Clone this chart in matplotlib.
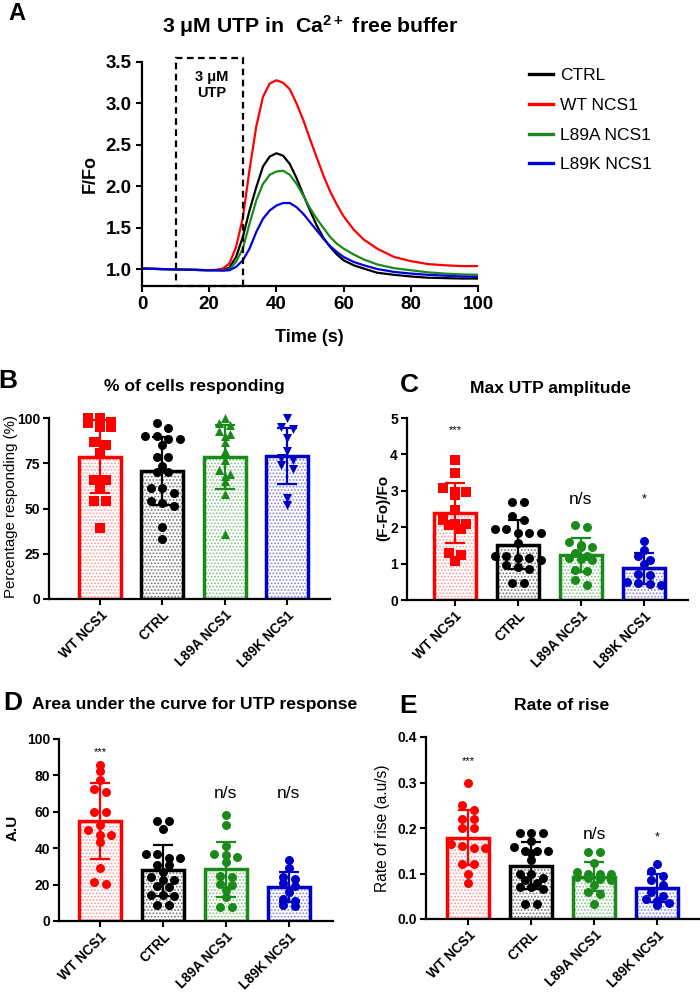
import numpy as np
import matplotlib
matplotlib.use('Agg')
import matplotlib.pyplot as plt
from matplotlib.patches import Rectangle

plt.rcParams['font.family'] = ['Liberation Sans', 'DejaVu Sans']
plt.rcParams['mathtext.fontset'] = 'custom'
plt.rcParams['mathtext.rm'] = 'Liberation Sans'
plt.rcParams['mathtext.bf'] = 'Liberation Sans:bold'
plt.rcParams['hatch.linewidth'] = 0.8

# ---------------- Panel A data ----------------
time_s = [0, 5, 10, 15, 20, 22, 24, 26, 28, 30, 32, 34, 36, 38, 40, 42, 44, 46, 48, 50,
          52, 54, 56, 58, 60, 63, 66, 70, 75, 80, 85, 90, 95, 100]
ctrl_trace = [1.01, 1.005, 1.0, 0.995, 0.99, 0.99, 0.995, 1.02, 1.15, 1.39, 1.71, 1.99, 2.24, 2.36,
              2.40, 2.37, 2.27, 2.10, 1.90, 1.71, 1.53, 1.38, 1.27, 1.18, 1.11, 1.05, 1.01, 0.96,
              0.935, 0.915, 0.90, 0.895, 0.89, 0.89]
wt_trace = [1.01, 1.005, 1.0, 0.995, 0.99, 0.995, 1.01, 1.07, 1.27, 1.62, 2.20, 2.72, 3.08, 3.24,
            3.28, 3.25, 3.17, 3.00, 2.80, 2.57, 2.35, 2.13, 1.94, 1.78, 1.64, 1.48, 1.36, 1.25,
            1.15, 1.10, 1.065, 1.05, 1.04, 1.04]
l89a_trace = [1.01, 1.005, 1.0, 0.995, 0.99, 0.99, 0.99, 1.0, 1.09, 1.25, 1.55, 1.83, 2.03, 2.14,
              2.18, 2.19, 2.14, 2.03, 1.89, 1.74, 1.61, 1.50, 1.39, 1.31, 1.25, 1.18, 1.12, 1.06,
              1.015, 0.99, 0.965, 0.95, 0.94, 0.935]
l89k_trace = [1.01, 1.005, 1.0, 0.995, 0.99, 0.99, 0.985, 0.99, 1.03, 1.11, 1.25, 1.45, 1.61, 1.71,
              1.77, 1.80, 1.80, 1.75, 1.67, 1.57, 1.47, 1.37, 1.28, 1.21, 1.15, 1.09, 1.05, 1.005,
              0.97, 0.95, 0.935, 0.925, 0.915, 0.91]
trace_labels = ['CTRL', 'WT NCS1', 'L89A NCS1', 'L89K NCS1']
utp_window = [10, 30]

# ---------------- Bar panels data ----------------
groups = ['WT NCS1', 'CTRL', 'L89A NCS1', 'L89K NCS1']

pct_wt = [100, 100, 98, 97, 95, 95, 87, 85, 80.5, 66, 66, 61, 54, 54, 39]
pct_ctrl = [97, 94.3, 90, 90, 88.4, 88.4, 85, 78.6, 78.6, 73.7, 70.3, 70.3, 61.1, 61.1, 58.4,
            54.3, 53.2, 51.6, 39.6, 33.1]
pct_l89a = [100, 97, 96, 93, 91, 90, 87, 82, 77, 71, 69, 68, 65, 58, 36]
pct_l89k = [100, 95, 94, 89, 82, 78, 77, 74, 72, 56, 52]

amp_wt = [3.85, 3.5, 3.07, 2.98, 2.97, 2.88, 2.48, 2.2, 2.1, 2.08, 2.05, 1.95, 1.28, 1.25, 1.08]
amp_ctrl = [2.7, 2.7, 2.3, 2.2, 1.95, 1.95, 1.85, 1.85, 1.83, 1.57, 1.2, 1.2, 1.15, 1.15, 1.1,
            0.95, 0.9, 0.85, 0.47, 0.47]
amp_l89a = [2.05, 2.0, 1.6, 1.5, 1.46, 1.45, 1.3, 1.2, 1.15, 1.12, 1.1, 0.82, 0.8, 0.55, 0.42]
amp_l89k = [1.62, 1.38, 1.22, 1.1, 1.0, 0.72, 0.7, 0.5, 0.46, 0.45, 0.4]

auc_wt = [85.7, 82.4, 77.5, 72.3, 71, 60, 60, 53, 50, 47.3, 47.3, 43.6, 28.9, 21.3, 20.3]
auc_ctrl = [55, 55, 50.4, 37, 36.8, 34.4, 34.4, 31, 30.8, 27, 24, 22.5, 22.5, 19, 18.9, 14.3,
            14.3, 14, 8.8, 8.8]
auc_l89a = [58, 53, 41, 37, 36, 35, 32.5, 25, 24, 20.5, 20, 17, 13.4, 7.9, 7.9]
auc_l89k = [33.5, 29, 24, 23, 21, 19, 16, 12, 11, 9, 8]

rate_wt = [0.30, 0.25, 0.24, 0.22, 0.22, 0.20, 0.20, 0.165, 0.16, 0.155, 0.155, 0.12, 0.12,
           0.10, 0.08]
rate_ctrl = [0.19, 0.19, 0.19, 0.172, 0.158, 0.15, 0.15, 0.15, 0.145, 0.13, 0.10, 0.10, 0.09,
             0.085, 0.08, 0.07, 0.07, 0.065, 0.033, 0.033]
rate_l89a = [0.148, 0.148, 0.122, 0.104, 0.10, 0.10, 0.10, 0.092, 0.09, 0.088, 0.085, 0.075,
             0.06, 0.055, 0.032]
rate_l89k = [0.12, 0.105, 0.095, 0.085, 0.075, 0.06, 0.05, 0.045, 0.04, 0.035, 0.03]

sig_amp = ['***', '', 'n/s', '*']
sig_auc = ['***', '', 'n/s', 'n/s']
sig_rate = ['***', '', 'n/s', '*']

colors = ['#ff0000', '#000000', '#1a8a1a', '#0000c8']
dot_colors = ['#ff9a9a', '#707070', '#80c080', '#8080e0']
trace_colors = ['#000000', '#ff0000', '#1a8a1a', '#0000e0']

W, H = 700, 993
fig = plt.figure(figsize=(W / 100, H / 100), dpi=100)


def px_axes(left, top, right, bottom):
    return fig.add_axes([left / W, 1 - bottom / H, (right - left) / W, (bottom - top) / H])


def ftext(x, y, s, **kw):
    kw.setdefault('ha', 'center')
    kw.setdefault('va', 'center')
    fig.text(x / W, 1 - y / H, s, **kw)


def style_axes(ax, tick_fs, pad=2):
    for side in ('top', 'right'):
        ax.spines[side].set_visible(False)
    for side in ('left', 'bottom'):
        ax.spines[side].set_linewidth(1.6)
    ax.tick_params(width=1.5, length=4.5, labelsize=tick_fs, direction='out', pad=pad)
    for lab in ax.get_yticklabels() + ax.get_xticklabels():
        lab.set_fontweight('bold')


# ---------------- Panel A ----------------
axA = px_axes(142, 62, 478, 286)
traces = [ctrl_trace, wt_trace, l89a_trace, l89k_trace]
handles = []
for tr, col, lab in zip(traces, trace_colors, trace_labels):
    h, = axA.plot(time_s, tr, color=col, lw=1.6, label=lab)
    handles.append(h)
axA.set_xlim(0, 100)
axA.set_ylim(0.8, 3.5)
axA.set_xticks([0, 20, 40, 60, 80, 100])
axA.set_yticks([1.0, 1.5, 2.0, 2.5, 3.0, 3.5])
axA.set_yticklabels(['1.0', '1.5', '2.0', '2.5', '3.0', '3.5'])
style_axes(axA, 13.5, pad=3)
axA.add_patch(Rectangle((utp_window[0], 0.8), utp_window[1] - utp_window[0], 2.75,
                        fill=False, ls=(0, (3, 2)), lw=1.6, ec='black', clip_on=False, zorder=5))
axA.text(20.8, 3.22, '3 μM\nUTP', ha='center', va='center', fontsize=10.5, fontweight='bold',
         linespacing=1.15)
leg = axA.legend(handles=handles, loc='upper left', bbox_to_anchor=(529 / W, 1 - 68 / H),
                 bbox_transform=fig.transFigure, frameon=False, fontsize=12.5,
                 handlelength=1.38, handletextpad=0.42, labelspacing=0.84,
                 borderpad=0, borderaxespad=0)
for line in leg.get_lines():
    line.set_linewidth(2.4)

ftext(310, 26, r'3 μM UTP in  $\mathbf{Ca^{2+}}$ free buffer', fontsize=15.3, fontweight='bold')
ftext(90, 174, 'F/Fo', fontsize=13, fontweight='bold', rotation=90)
ftext(309, 337, 'Time (s)', fontsize=13, fontweight='bold')
ftext(17, 13, 'A', fontsize=17, fontweight='bold')


# ---------------- Bar panels ----------------
def swarm_x(ax, center, vals, diam_px=9.5, gap_px=11.5):
    """Arrange points of similar value in centered rows (GraphPad-like scatter)."""
    vals = np.asarray(vals, dtype=float)
    order = np.argsort(-vals)
    ypix = ax.transData.transform(np.column_stack([np.zeros_like(vals), vals]))[:, 1]
    x0pix = ax.transData.transform((center, 0))[0]
    xpix = np.zeros_like(vals)
    rows = []
    cur = []
    for idx in order:
        if cur and abs(ypix[cur[0]] - ypix[idx]) > diam_px * 0.55:
            rows.append(cur)
            cur = []
        cur.append(idx)
    if cur:
        rows.append(cur)
    for row in rows:
        n = len(row)
        for k, idx in enumerate(row):
            xpix[idx] = x0pix + (k - (n - 1) / 2) * gap_px
    inv = ax.transData.inverted()
    return inv.transform(np.column_stack([xpix, ypix]))[:, 0]


def bar_panel(box, xlim, ylim, yticks, yticklabels, datasets, markers, sigs=None,
              sig_y=None, sig_sizes=None):
    ax = px_axes(*box)
    ax.set_xlim(*xlim)
    ax.set_ylim(*ylim)
    for i, (vals, col, dcol, mk) in enumerate(zip(datasets, colors, dot_colors, markers)):
        vals = np.asarray(vals, dtype=float)
        m = vals.mean()
        sd = vals.std(ddof=1)
        ax.bar(i, m, width=0.67, facecolor='white', edgecolor=dcol, hatch='.....',
               linewidth=0, zorder=1)
        ax.bar(i, m, width=0.67, fill=False, edgecolor=col, linewidth=2.5, zorder=2)
        xs = swarm_x(ax, i, vals)
        ax.scatter(xs, vals, marker=mk, s=42, color=col, linewidths=0, zorder=3, clip_on=False)
        ax.errorbar(i, m, yerr=sd, color=col, capsize=7.5, elinewidth=1.6, capthick=1.6,
                    zorder=4, fmt='none')
        if sigs and sigs[i]:
            fs = sig_sizes[0] if sigs[i] == '***' else sig_sizes[1]
            if sigs[i] == '*':
                fs = sig_sizes[0] + 1
            ax.text(i, sig_y[i], sigs[i], ha='center', va='center', fontsize=fs)
    ax.set_xticks(range(len(groups)))
    ax.set_xticklabels(groups, rotation=45, ha='right', rotation_mode='anchor')
    ax.set_yticks(yticks)
    ax.set_yticklabels(yticklabels)
    style_axes(ax, 10)
    for lab in ax.get_xticklabels():
        lab.set_fontsize(9.8)
    return ax


axB = bar_panel((49, 418, 330, 599), (-0.818, 3.69), (0, 100), [0, 25, 50, 75, 100],
                ['0', '25', '50', '75', '100'],
                [pct_wt, pct_ctrl, pct_l89a, pct_l89k], ['s', 'o', '^', 'v'])
axC = bar_panel((407, 418, 688, 600), (-0.76, 3.7), (0, 5), [0, 1, 2, 3, 4, 5],
                ['0', '1', '2', '3', '4', '5'],
                [amp_wt, amp_ctrl, amp_l89a, amp_l89k], ['s', 'o', 'o', 'o'],
                sigs=sig_amp, sig_y=[4.67, 0, 2.75, 2.75], sig_sizes=[8, 12.5])
axD = bar_panel((59, 739, 333, 921), (-0.65, 3.7), (0, 100), [0, 20, 40, 60, 80, 100],
                ['0', '20', '40', '60', '80', '100'],
                [auc_wt, auc_ctrl, auc_l89a, auc_l89k], ['o', 'o', 'o', 'o'],
                sigs=sig_auc, sig_y=[93, 0, 70, 70], sig_sizes=[8, 12.5])
axE = bar_panel((426, 737, 700, 919), (-0.67, 3.68), (0, 0.4), [0, 0.1, 0.2, 0.3, 0.4],
                ['0.0', '0.1', '0.2', '0.3', '0.4'],
                [rate_wt, rate_ctrl, rate_l89a, rate_l89k], ['o', 'o', 'o', 'o'],
                sigs=sig_rate, sig_y=[0.346, 0, 0.185, 0.18], sig_sizes=[8, 12.5])

# titles, letters and axis labels
ftext(194, 387, '% of cells responding', fontsize=12.6, fontweight='bold')
ftext(8, 381, 'B', fontsize=19, fontweight='bold')
ftext(11, 507, 'Percentage responding (%)', fontsize=10.8, rotation=90)

ftext(550, 388, 'Max UTP amplitude', fontsize=12.6, fontweight='bold')
ftext(409, 385, 'C', fontsize=19, fontweight='bold')
ftext(383, 508, '(F-Fo)/Fo', fontsize=11, fontweight='bold', rotation=90)

ftext(32, 705, 'Area under the curve for UTP response', fontsize=12.6, fontweight='bold',
      ha='left')
ftext(13, 703, 'D', fontsize=19, fontweight='bold')
ftext(13, 828, 'A.U', fontsize=11, fontweight='bold', rotation=90)

ftext(562, 706, 'Rate of rise', fontsize=12.6, fontweight='bold')
ftext(408, 706, 'E', fontsize=19, fontweight='bold')
ftext(382, 828, 'Rate of rise (a.u/s)', fontsize=11.2, rotation=90)

fig.savefig('out.png', dpi=100)
